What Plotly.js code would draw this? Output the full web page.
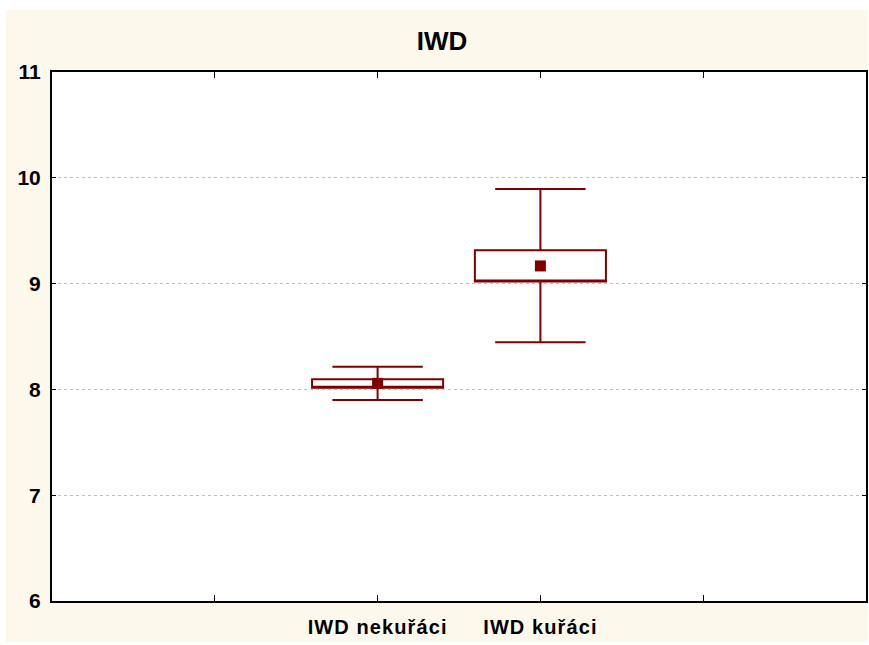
<!DOCTYPE html>
<html>
<head>
<meta charset="utf-8">
<script src="https://cdn.plot.ly/plotly-3.0.1.min.js"></script>
<style>
  html, body { margin: 0; padding: 0; background: #ffffff; width: 869px; height: 645px; overflow: hidden; }
  #chart { position: absolute; left: 6px; top: 10px; width: 862px; height: 632px; }
  #chart .xtick text { letter-spacing: 1.1px; }
</style>
</head>
<body>
<div id="chart"></div>
<script>
// Data
const categories = ['IWD nekuřáci', 'IWD kuřáci'];
const means       = [8.057, 9.167];
const boxLow      = [8.016, 9.019];
const boxHigh     = [8.095, 9.315];
const whiskerLow  = [7.899, 8.445];
const whiskerHigh = [8.215, 9.895];
const slotTicks   = [1, 2, 3, 4];

const positions = categories.map((c, i) => i + 2);
const ticktext = slotTicks.map(t => {
  const idx = positions.indexOf(t);
  return idx >= 0 ? categories[idx] : '';
});

const red = '#800000';
const font = '"Liberation Sans", Arial, sans-serif';

const boxTrace = {
  type: 'box',
  x: positions,
  q1: boxLow,
  median: boxLow,
  q3: boxHigh,
  lowerfence: whiskerLow,
  upperfence: whiskerHigh,
  width: 0.805,
  whiskerwidth: 0.69,
  boxpoints: false,
  fillcolor: '#ffffff',
  line: { color: red, width: 2 },
  hoverinfo: 'skip',
  showlegend: false
};

const meanTrace = {
  type: 'scatter',
  mode: 'markers',
  x: positions,
  y: means,
  marker: { symbol: 'square', size: 11, color: red },
  showlegend: false
};

const layout = {
  width: 862,
  height: 632,
  paper_bgcolor: '#FDF8EC',
  plot_bgcolor: '#ffffff',
  margin: { l: 46, r: 2, t: 62, b: 41 },
  showlegend: false,
  title: {
    text: '<b>IWD</b>',
    font: { family: font, size: 26, color: '#000000' },
    x: 0.5058, xref: 'container', xanchor: 'center',
    y: 0.951, yref: 'container', yanchor: 'middle'
  },
  xaxis: {
    range: [0, 5],
    tickmode: 'array',
    tickvals: slotTicks,
    ticktext: ticktext.map(t => t ? '<b>' + t + '</b>' : ''),
    ticks: 'inside',
    ticklen: 6,
    tickwidth: 1,
    tickcolor: '#000000',
    showline: true,
    linewidth: 2,
    linecolor: '#000000',
    mirror: 'ticks',
    showgrid: false,
    zeroline: false,
    ticklabelstandoff: 7,
    tickfont: { family: font, size: 20, color: '#000000' }
  },
  yaxis: {
    range: [6, 11],
    tickmode: 'linear',
    tick0: 6,
    dtick: 1,
    ticks: 'inside',
    ticklen: 4,
    tickwidth: 1,
    tickcolor: '#000000',
    showline: true,
    linewidth: 2,
    linecolor: '#000000',
    mirror: 'ticks',
    showgrid: true,
    gridcolor: '#bfbfbf',
    griddash: 'dot',
    gridwidth: 1,
    zeroline: false,
    ticklabelstandoff: 5,
    tickprefix: '<b>',
    ticksuffix: '</b>',
    tickfont: { family: font, size: 21, color: '#000000' }
  }
};

Plotly.newPlot('chart', [boxTrace, meanTrace], layout, { displayModeBar: false, staticPlot: true });
</script>
</body>
</html>
